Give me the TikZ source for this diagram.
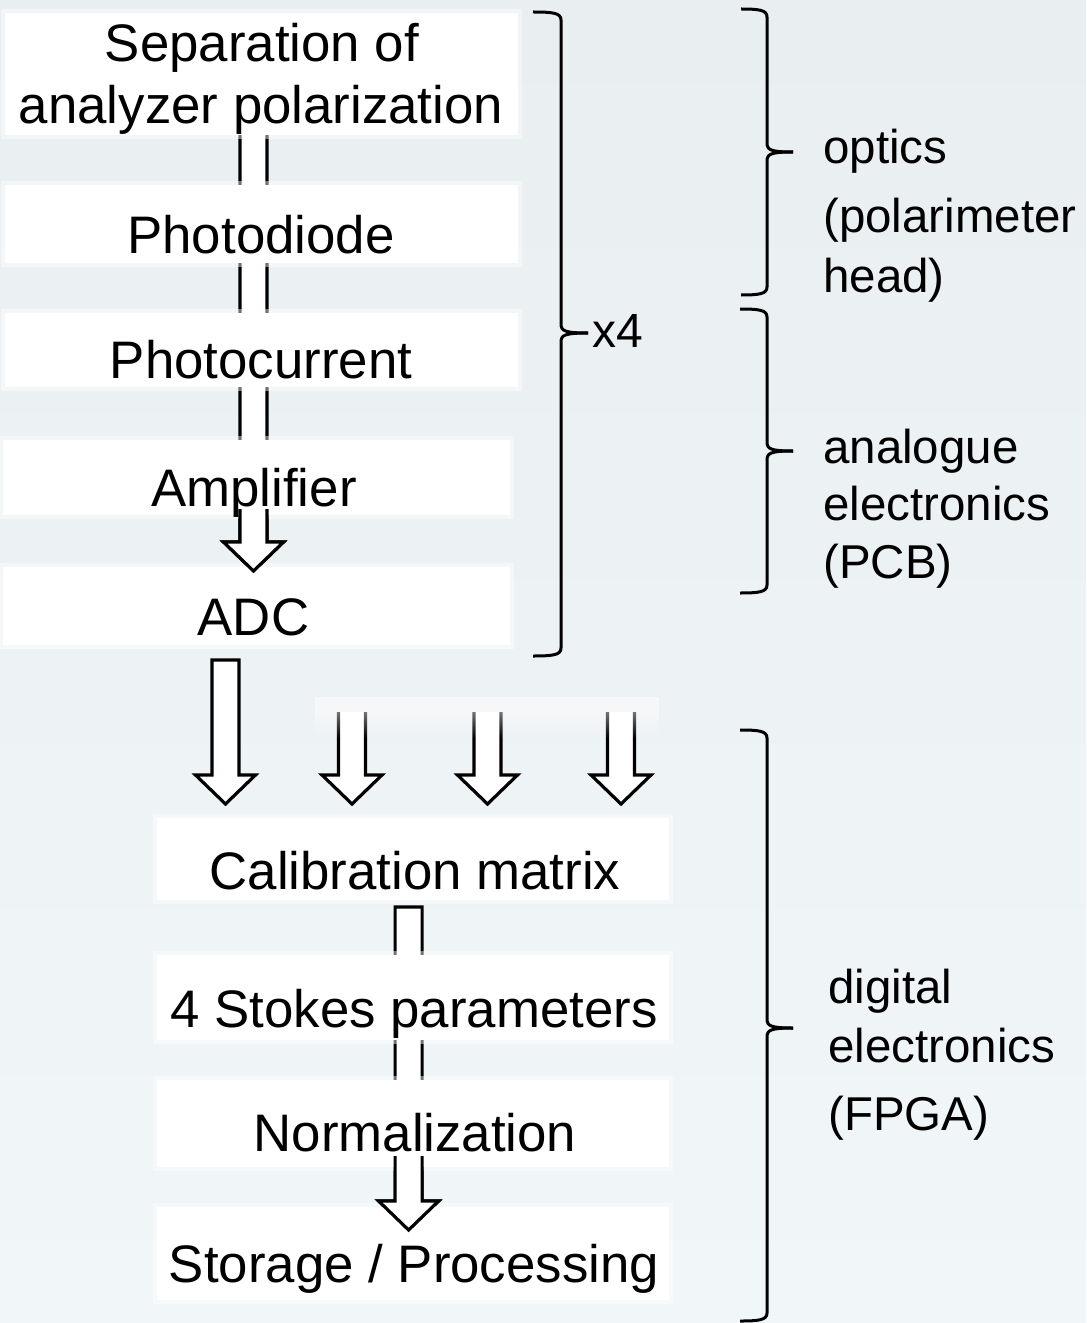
\documentclass[tikz,border=0pt]{standalone}
\usepackage{fontspec}
\setmainfont{Liberation Sans}
\usetikzlibrary{calc,fadings}
\tikzfading[name=fadedown, top color=transparent!0, bottom color=transparent!100]
\definecolor{bgTop}{RGB}{233,238,241}
\definecolor{bgBot}{RGB}{241,246,249}
\newcommand\blockarrow[2]{%
  \draw[blockstroke] let \p1=(#1), \p2=(#2) in
    (\x2-10.125pt,\y1) -- (\x2-10.125pt,\y2+21.75pt) -- (\x2-22.5pt,\y2+21.75pt) -- (\p2)
    -- (\x2+22.5pt,\y2+21.75pt) -- (\x2+10.125pt,\y2+21.75pt) -- (\x2+10.125pt,\y1) -- cycle;}
\newcommand\openarrow[2]{%
  \fill[white] let \p1=(#1), \p2=(#2) in
    (\x2-10.125pt,\y1) -- (\x2-10.125pt,\y2+21.75pt) -- (\x2-22.5pt,\y2+21.75pt) -- (\p2)
    -- (\x2+22.5pt,\y2+21.75pt) -- (\x2+10.125pt,\y2+21.75pt) -- (\x2+10.125pt,\y1) -- cycle;
  \draw[blockstroke] let \p1=(#1), \p2=(#2) in
    (\x2-10.125pt,\y1) -- (\x2-10.125pt,\y2+21.75pt) -- (\x2-22.5pt,\y2+21.75pt) -- (\p2)
    -- (\x2+22.5pt,\y2+21.75pt) -- (\x2+10.125pt,\y2+21.75pt) -- (\x2+10.125pt,\y1);}
\newcommand\sidebrace[6]{%
  \draw[bracestroke] (#1,#3) .. controls (#2-8,#3) and (#2,#3+1) .. (#2,#3+8)
    -- (#2,#5-9) .. controls (#2,#5-2) and (#2+4,#5) .. (#6,#5);
  \draw[bracestroke] (#1,#4) .. controls (#2-8,#4) and (#2,#4-1) .. (#2,#4-8)
    -- (#2,#5+9) .. controls (#2,#5+2) and (#2+4,#5) .. (#6,#5);}
\begin{document}
\begin{tikzpicture}[x=0.75pt,y=-0.75pt,
  blockstroke/.style={draw=black, fill=white, line width=2.4pt, line join=miter, miter limit=10},
  bracestroke/.style={draw=black, line width=2.25pt, line cap=butt},
  wbox/.style={fill=white, draw=none, inner sep=0pt,
    preaction={draw=white, line width=6pt, draw opacity=0.45}},
  maintxt/.style={anchor=base, inner sep=0pt, text=black, font=\fontsize{39.6}{46}\selectfont},
  sidetxt/.style={anchor=base west, inner sep=0pt, text=black, font=\fontsize{35.6}{42}\selectfont}]
\useasboundingbox (0,0) rectangle (1086,1323);
\shade[top color=bgTop, bottom color=bgBot] (0,0) rectangle (1086,1323);

% arrow coordinates
\coordinate (a1s) at (253,128);   \coordinate (a1t) at (253.5,571);  \coordinate (a1h) at (253.5,509);
\coordinate (a2s) at (225.5,660); \coordinate (a2t) at (225.5,804);
\coordinate (a3s) at (352,712);   \coordinate (a3t) at (352,804);
\coordinate (a4s) at (487.5,712); \coordinate (a4t) at (487.5,804);
\coordinate (a5s) at (621,712);   \coordinate (a5t) at (621,804);
\coordinate (a6s) at (408.6,907); \coordinate (a6t) at (408.6,1230); \coordinate (a6h) at (408.6,1156);

% arrows behind the boxes
\blockarrow{a1s}{a1t}
\blockarrow{a2s}{a2t}
\openarrow{a3s}{a3t}
\openarrow{a4s}{a4t}
\openarrow{a5s}{a5t}
\blockarrow{a6s}{a6t}
\fill[white, fill opacity=0.45] (315,697) rectangle (659,712);
\fill[white, fill opacity=0.45, path fading=fadedown] (315,712) rectangle (659,738);

% boxes
\node[wbox, minimum width=384.75pt, minimum height=91.5pt] (b1) at (261.5,74) {};
\node[wbox, minimum width=384.75pt, minimum height=58.5pt] (b2) at (261.5,224) {};
\node[wbox, minimum width=384.75pt, minimum height=55.5pt] (b3) at (261.5,350) {};
\node[wbox, minimum width=380.25pt, minimum height=56.25pt] (b4) at (256.5,477.5) {};
\node[wbox, minimum width=380.25pt, minimum height=58.5pt] (b5) at (256.5,606) {};
\node[wbox, minimum width=384pt, minimum height=61.5pt] (b6) at (413,859) {};
\node[wbox, minimum width=384pt, minimum height=63.75pt] (b7) at (413,997.5) {};
\node[wbox, minimum width=384pt, minimum height=65.25pt] (b8) at (413,1123.5) {};
\node[wbox, minimum width=384pt, minimum height=69.75pt] (b9) at (413,1253.5) {};

% arrow heads in front of the boxes
\openarrow{a1h}{a1t}
\openarrow{a6h}{a6t}

% texts
\node[maintxt] (t1a) at (262,62) {Separation of};
\node[maintxt] (t1b) at (261,124) {analyzer polarization};
\node[maintxt] (t2) at (261,253) {Photodiode};
\node[maintxt] (t3) at (261,378) {Photocurrent};
\node[maintxt] (t4) at (254,506) {Amplifier};
\node[maintxt] (t5) at (253.5,635) {ADC};
\node[maintxt] (t6) at (415,889) {Calibration matrix};
\node[maintxt] (t7) at (414,1027) {4 Stokes parameters};
\node[maintxt] (t8) at (415,1151) {Normalization};
\node[maintxt] (t9) at (414,1282) {Storage / Processing};

% braces
\sidebrace{533}{561}{12}{656}{333}{588}
\sidebrace{741}{767}{9}{295}{152}{793}
\sidebrace{740}{767}{309}{593}{451}{793}
\sidebrace{740}{767}{730}{1321}{1028}{793}

% side labels
\node[anchor=base west, inner sep=0pt, font=\fontsize{36}{42}\selectfont] (x4) at (592,347) {x4};
\node[sidetxt] (o1) at (823,164) {optics};
\node[sidetxt] (o2) at (823,233) {(polarimeter};
\node[sidetxt] (o3) at (823,292) {head)};
\node[sidetxt] (e1) at (823,463) {analogue};
\node[sidetxt] (e2) at (823,520) {electronics};
\node[sidetxt] (e3) at (823,578) {(PCB)};
\node[sidetxt] (d1) at (828,1003) {digital};
\node[sidetxt] (d2) at (828,1062) {electronics};
\node[sidetxt] (d3) at (828,1130) {(FPGA)};
\end{tikzpicture}
\end{document}
